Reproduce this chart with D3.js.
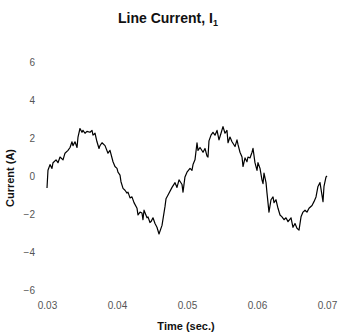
<!DOCTYPE html>
<html>
<head>
<meta charset="utf-8">
<script src="https://cdn.jsdelivr.net/npm/d3@7"></script>
<style>
  body { margin: 0; background: #fff; }
  svg { display: block; font-family: "Liberation Sans", Arial, sans-serif; }
  .tick text { fill: #555; font-size: 10px; }
  .ttl { font-weight: bold; fill: #111; }
</style>
</head>
<body>
<svg id="chart" width="339" height="334"></svg>
<script>
// sample times (s) and line current (A)
var time = [
  0.03000, 0.03014, 0.03043, 0.03071, 0.03086, 0.03129, 0.03157, 0.03186, 0.03229, 0.03257,
  0.03300, 0.03329, 0.03357, 0.03371, 0.03400, 0.03429, 0.03443, 0.03471, 0.03500, 0.03514,
  0.03543, 0.03571, 0.03614, 0.03643, 0.03657, 0.03686, 0.03714, 0.03743, 0.03757, 0.03786,
  0.03829, 0.03871, 0.03900, 0.03943, 0.03971, 0.04000, 0.04014, 0.04043, 0.04057, 0.04086,
  0.04114, 0.04143, 0.04157, 0.04186, 0.04214, 0.04243, 0.04286, 0.04300, 0.04329, 0.04357,
  0.04371, 0.04386, 0.04429, 0.04443, 0.04471, 0.04486, 0.04514, 0.04543, 0.04571, 0.04600,
  0.04643, 0.04686, 0.04700, 0.04729, 0.04786, 0.04829, 0.04857, 0.04886, 0.04929, 0.04943,
  0.04971, 0.05000, 0.05043, 0.05071, 0.05086, 0.05114, 0.05143, 0.05157, 0.05186, 0.05229,
  0.05257, 0.05286, 0.05300, 0.05314, 0.05343, 0.05371, 0.05400, 0.05429, 0.05457, 0.05486,
  0.05514, 0.05543, 0.05571, 0.05586, 0.05614, 0.05643, 0.05686, 0.05714, 0.05729, 0.05757,
  0.05786, 0.05800, 0.05829, 0.05857, 0.05871, 0.05900, 0.05929, 0.05943, 0.05971, 0.06000,
  0.06014, 0.06043, 0.06071, 0.06086, 0.06100, 0.06129, 0.06143, 0.06171, 0.06200, 0.06229,
  0.06243, 0.06271, 0.06300, 0.06329, 0.06357, 0.06386, 0.06414, 0.06443, 0.06486, 0.06514,
  0.06543, 0.06571, 0.06600, 0.06629, 0.06657, 0.06686, 0.06714, 0.06743, 0.06786, 0.06814,
  0.06843, 0.06871, 0.06900, 0.06943, 0.06957, 0.06986, 0.07000
];
var current = [
  -0.63, 0.30, 0.60, 0.40, 0.70, 0.85, 0.70, 1.00, 0.85, 1.20,
  1.35, 1.50, 1.80, 1.60, 1.80, 1.50, 2.05, 2.50, 2.30, 2.40,
  2.25, 2.35, 2.30, 2.40, 2.15, 2.25, 1.80, 1.45, 1.60, 1.75,
  1.60, 1.20, 1.35, 0.75, 0.50, 0.40, 0.20, 0.05, -0.30, -0.65,
  -0.75, -0.90, -0.85, -1.15, -1.10, -1.40, -1.70, -2.05, -1.90, -1.95,
  -2.30, -1.80, -2.20, -2.15, -2.45, -2.40, -2.20, -2.50, -2.70, -3.05,
  -2.60, -1.60, -1.20, -1.00, -0.60, -0.35, -0.60, -0.20, -0.45, -0.85,
  -0.05, 0.20, 0.40, 0.30, 0.60, 0.85, 1.75, 1.35, 1.50, 1.25,
  1.45, 1.05, 1.00, 1.85, 2.15, 2.30, 2.15, 2.40, 1.90, 2.25,
  2.60, 2.25, 2.40, 1.75, 2.05, 1.80, 1.55, 1.90, 1.65, 1.25,
  1.00, 0.50, 0.95, 0.75, 1.00, 0.95, 1.25, 1.45, 0.70, 0.30,
  0.70, 0.40, -0.20, -0.40, 0.15, -0.35, -0.90, -1.90, -1.25, -1.10,
  -1.40, -1.25, -1.70, -2.05, -2.15, -2.30, -2.20, -2.40, -2.20, -2.70,
  -2.50, -2.75, -2.85, -2.15, -1.90, -1.80, -1.90, -1.70, -1.55, -1.35,
  -1.10, -0.55, -0.35, -1.35, -0.55, -0.05, 0.00
];
var xTicks = [0.03, 0.04, 0.05, 0.06, 0.07];
var yTicks = [-6, -4, -2, 0, 2, 4, 6];

var svg = d3.select("#chart");
var x = d3.scaleLinear().domain([0.03, 0.07]).range([47, 327]);
var y = d3.scaleLinear().domain([-6, 6]).range([290, 62]);

// axes without lines, only labels
var xAxis = svg.append("g").attr("transform", "translate(0,299)")
    .call(d3.axisBottom(x).tickValues(xTicks).tickFormat(d3.format(".2f")).tickSize(0));
xAxis.select(".domain").remove();

var yAxis = svg.append("g").attr("transform", "translate(35,0)")
    .call(d3.axisLeft(y).tickValues(yTicks).tickFormat(d3.format("d")).tickSize(0).tickPadding(0));
yAxis.select(".domain").remove();

var line = d3.line().x((d, i) => x(time[i])).y(d => y(d));
svg.append("path").datum(current)
    .attr("fill", "none").attr("stroke", "#000").attr("stroke-width", 1.2)
    .attr("stroke-linejoin", "round").attr("d", line);

// titles
var t = svg.append("text").attr("class", "ttl").attr("x", 168).attr("y", 23)
    .attr("text-anchor", "middle").style("font-size", "14px");
t.append("tspan").text("Line Current, I");
t.append("tspan").attr("dy", 3).style("font-size", "9px").text("1");

svg.append("text").attr("class", "ttl").attr("x", 186).attr("y", 330)
    .attr("text-anchor", "middle").style("font-size", "11px").text("Time (sec.)");

svg.append("text").attr("class", "ttl")
    .attr("transform", "translate(14,178) rotate(-90)")
    .attr("text-anchor", "middle").style("font-size", "11px").text("Current (A)");
</script>
</body>
</html>
